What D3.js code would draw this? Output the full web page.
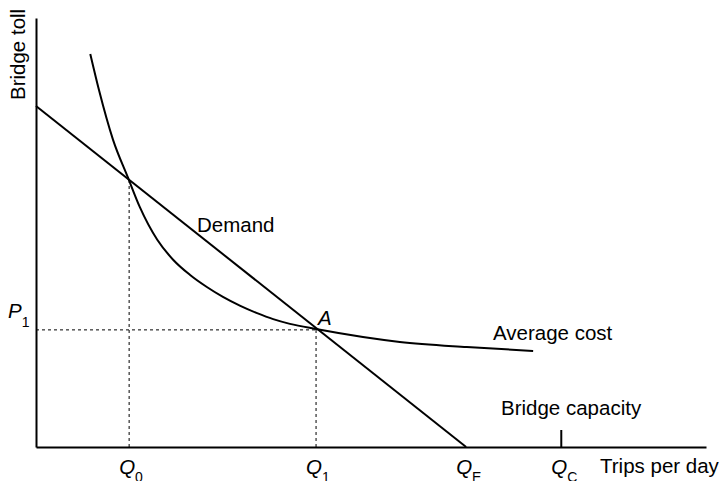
<!DOCTYPE html>
<html>
<head>
<meta charset="utf-8">
<script src="https://cdn.jsdelivr.net/npm/d3@7"></script>
<style>
  body { margin: 0; background: #fff; }
  text { font-family: "Liberation Sans", Arial, sans-serif; font-size: 20.5px; fill: #000; }
  .curve { fill: none; stroke: #000; stroke-width: 2; }
  .guide { fill: none; stroke: #000; stroke-width: 1; stroke-dasharray: 3,3; }
  .axis path { stroke: #000; stroke-width: 2; }
</style>
</head>
<body>
<div id="chart"></div>
<script>
// demand line: toll at zero trips, and the trips where toll hits zero (Q_E)
var demandPts = [[0, 79.5], [64.2, 0]];

// average cost curve (trips, toll)
var avgCostQ = [8.1, 9.4, 11.5, 13.7, 15.5, 18.1, 20.5, 23.0, 25.5, 27.9, 30.5, 33.0, 35.4, 37.9, 41.8, 54.3, 64.3, 74.2];
var avgCostP = [91.6, 83.2, 71.6, 62.9, 55.9, 48.3, 43.6, 40.1, 37.3, 35.0, 32.9, 31.2, 29.8, 28.7, 27.5, 24.5, 23.3, 22.4];

// marked quantities on the trips axis
var qNames = ["0", "1", "E", "C"];
var qValues = [13.9, 41.8, 64.2, 78.4];
var p1 = 27.3;
var capacity = 78.4;

var width = 721, height = 481;

var svg = d3.select("#chart").append("svg")
    .attr("width", width)
    .attr("height", height);

var x = d3.scaleLinear().domain([0, 100]).range([36, 706]);
var y = d3.scaleLinear().domain([0, 100]).range([447, 18]);

var demand = function (q) {
    return demandPts[0][1] + (demandPts[1][1] - demandPts[0][1]) * (q - demandPts[0][0]) / (demandPts[1][0] - demandPts[0][0]);
};

// dashed guides to Q0 (on demand) and to point A
svg.append("line").attr("class", "guide")
    .attr("x1", x(qValues[0])).attr("x2", x(qValues[0]))
    .attr("y1", y(0)).attr("y2", y(demand(qValues[0])));
svg.append("line").attr("class", "guide")
    .attr("x1", x(qValues[1])).attr("x2", x(qValues[1]))
    .attr("y1", y(0)).attr("y2", y(p1));
svg.append("line").attr("class", "guide")
    .attr("x1", x(0)).attr("x2", x(qValues[1]))
    .attr("y1", y(p1)).attr("y2", y(p1));

// axes with no ticks, just the lines
svg.append("g").attr("class", "axis")
    .attr("transform", "translate(0," + y(0) + ")")
    .call(d3.axisBottom(x).tickValues([]).tickSizeOuter(0));
svg.append("g").attr("class", "axis")
    .attr("transform", "translate(" + x(0) + ",0)")
    .call(d3.axisLeft(y).tickValues([]).tickSizeOuter(0));

var line = d3.line().x(function (d) { return x(d[0]); }).y(function (d) { return y(d[1]); });

svg.append("path").attr("class", "curve")
    .attr("d", line(demandPts));

svg.append("path").attr("class", "curve")
    .attr("d", line.curve(d3.curveMonotoneX)(d3.zip(avgCostQ, avgCostP)));

// bridge capacity mark
svg.append("line")
    .attr("x1", x(capacity)).attr("x2", x(capacity))
    .attr("y1", y(0) - 17).attr("y2", y(0))
    .attr("stroke", "#000").attr("stroke-width", 2);

// labels
svg.append("text")
    .attr("transform", "translate(25,100) rotate(-90)")
    .text("Bridge toll");

svg.append("text").attr("x", 600).attr("y", 473).text("Trips per day");
svg.append("text").attr("x", 197).attr("y", 232).text("Demand");
svg.append("text").attr("x", 493).attr("y", 340).text("Average cost");
svg.append("text").attr("x", 501).attr("y", 415).text("Bridge capacity");

svg.append("text").attr("x", x(qValues[1]) + 2).attr("y", 325)
    .style("font-style", "italic").text("A");

var p = svg.append("text").attr("x", 8).attr("y", 318);
p.append("tspan").style("font-style", "italic").text("P");
p.append("tspan").attr("dy", 9).style("font-size", "14px").text("1");

svg.selectAll(".qlab")
    .data(qNames)
    .enter().append("text")
    .attr("class", "qlab")
    .attr("x", function (d, i) { return x(qValues[i]) - 10; })
    .attr("y", 474)
    .each(function (d) {
        var t = d3.select(this);
        t.append("tspan").style("font-style", "italic").text("Q");
        t.append("tspan").attr("dy", 8).style("font-size", "14px").text(d);
    });
</script>
</body>
</html>
